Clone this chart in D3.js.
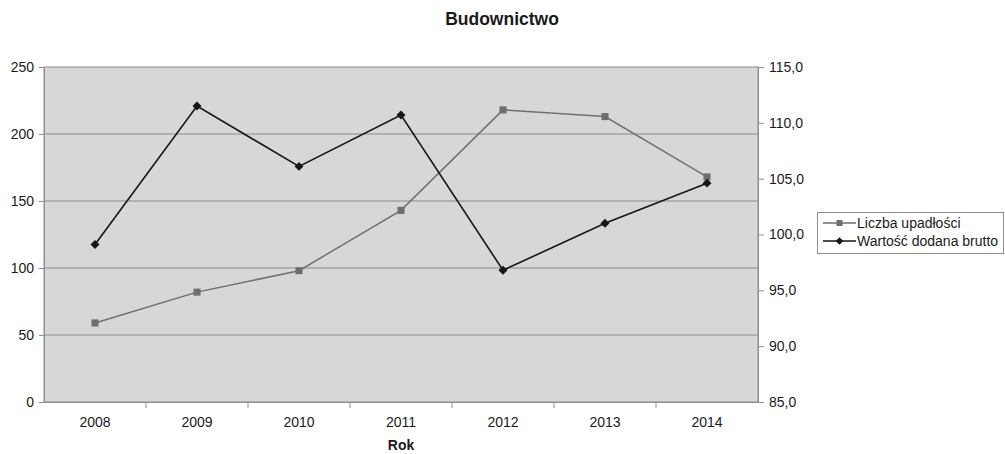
<!DOCTYPE html>
<html><head><meta charset="utf-8">
<script src="https://cdn.jsdelivr.net/npm/d3@7"></script>
<style>body{margin:0;background:#fff;}svg{display:block;font-family:Arial,"Liberation Sans",sans-serif;}</style>
</head><body><svg id="c" width="1005" height="454"></svg>
<script>
const title = "Budownictwo";
const xTitle = "Rok";
const years = ["2008","2009","2010","2011","2012","2013","2014"];
const bankruptcies = [59, 82, 98, 143, 218, 213, 168];
const grossValueAdded = [99.1, 111.5, 106.1, 110.7, 96.8, 101.0, 104.6];
const leftTicks = [0, 50, 100, 150, 200, 250];
const rightTicks = [85, 90, 95, 100, 105, 110, 115];
const seriesNames = ["Liczba upadłości", "Wartość dodana brutto"];

const svg = d3.select("#c");
const L = 44, R = 758, T = 67, B = 402;
const x = d3.scaleBand().domain(years).range([L, R]);
const yL = d3.scaleLinear().domain([0, 250]).range([B, T]);
const yR = d3.scaleLinear().domain([85, 115]).range([B, T]);

svg.append("rect").attr("x", L).attr("y", T).attr("width", R - L).attr("height", B - T)
  .attr("fill", "#d6d7d9").attr("stroke", "#8e8e8e").attr("stroke-width", 1);

svg.append("g").selectAll("line").data(leftTicks.slice(1, -1)).join("line")
  .attr("x1", L).attr("x2", R).attr("y1", d => yL(d)).attr("y2", d => yL(d))
  .attr("stroke", "#8a8a8a").attr("stroke-width", 1);

const fmtR = d => d3.format(".1f")(d).replace(".", ",");

const gl = svg.append("g").attr("transform", `translate(${L},0)`)
  .call(d3.axisLeft(yL).tickValues(leftTicks).tickSize(5).tickPadding(5));
const gr = svg.append("g").attr("transform", `translate(${R},0)`)
  .call(d3.axisRight(yR).tickValues(rightTicks).tickFormat(fmtR).tickSize(6).tickPadding(5));
const gx = svg.append("g").attr("transform", `translate(0,${B})`)
  .call(d3.axisBottom(x).tickSize(0).tickPadding(15));
[gl, gr, gx].forEach(g => {
  g.selectAll("path.domain").attr("stroke", "#8e8e8e");
  g.selectAll(".tick line").attr("stroke", "#8e8e8e");
  g.selectAll("text").attr("font-size", 14).attr("fill", "#1a1a1a").attr("font-family", "Arial, Liberation Sans, sans-serif");
});
// category boundary ticks
svg.append("g").selectAll("line").data(years.slice(1)).join("line")
  .attr("x1", d => x(d)).attr("x2", d => x(d)).attr("y1", B).attr("y2", B + 6)
  .attr("stroke", "#8e8e8e");

const cx = d => x(d) + x.bandwidth() / 2;
const line1 = d3.line().x((d, i) => cx(years[i])).y(d => yL(d));
const line2 = d3.line().x((d, i) => cx(years[i])).y(d => yR(d));

svg.append("path").attr("d", line1(bankruptcies)).attr("fill", "none").attr("stroke", "#707070").attr("stroke-width", 1.5);
svg.append("g").selectAll("path").data(bankruptcies).join("path")
  .attr("d", d3.symbol(d3.symbolSquare, 50))
  .attr("transform", (d, i) => `translate(${cx(years[i])},${yL(d)})`).attr("fill", "#6e6e6e");

svg.append("path").attr("d", line2(grossValueAdded)).attr("fill", "none").attr("stroke", "#161616").attr("stroke-width", 1.6);
svg.append("g").selectAll("path").data(grossValueAdded).join("path")
  .attr("d", d3.symbol(d3.symbolSquare, 40))
  .attr("transform", (d, i) => `translate(${cx(years[i])},${yR(d)}) rotate(45)`).attr("fill", "#161616");

svg.append("text").attr("x", 502).attr("y", 25).attr("text-anchor", "middle")
  .attr("font-size", 17.5).attr("font-weight", "bold").attr("fill", "#1a1a1a").text(title);
svg.append("text").attr("x", 401).attr("y", 450).attr("text-anchor", "middle")
  .attr("font-size", 14).attr("font-weight", "bold").attr("fill", "#1a1a1a").text(xTitle);

// legend
const lg = svg.append("g");
lg.append("rect").attr("x", 817.5).attr("y", 212.5).attr("width", 186).attr("height", 41)
  .attr("fill", "#fff").attr("stroke", "#8e8e8e");
const lc = ["#6e6e6e", "#161616"];
seriesNames.forEach((n, i) => {
  const yy = 223 + i * 18;
  lg.append("line").attr("x1", 823).attr("x2", 856).attr("y1", yy).attr("y2", yy).attr("stroke", lc[i]).attr("stroke-width", 1.5);
  lg.append("path").attr("d", d3.symbol(d3.symbolSquare, i ? 30 : 36))
    .attr("transform", `translate(839.5,${yy})` + (i ? " rotate(45)" : "")).attr("fill", lc[i]);
  lg.append("text").attr("x", 857).attr("y", yy + 5).attr("font-size", 14).attr("fill", "#1a1a1a").text(n);
});
</script></body></html>
